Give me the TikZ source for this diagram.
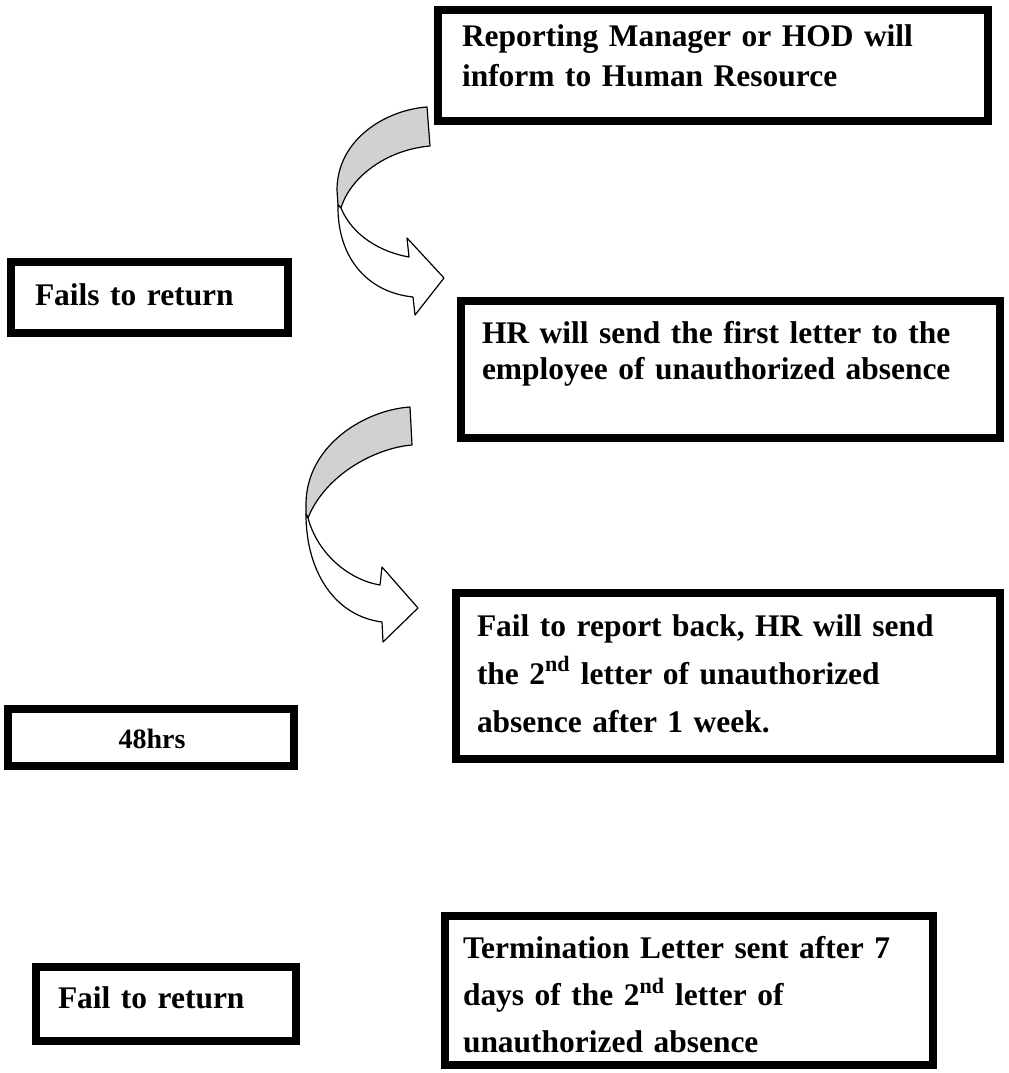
\documentclass[tikz,border=0pt]{standalone}
\usepackage{fontspec}
\setmainfont{Liberation Serif}
\begin{document}
\begin{tikzpicture}[x=0.75pt,y=-0.75pt,
  frame/.style={draw=black, line width=6pt, inner sep=0pt, outer sep=0pt, anchor=north west},
  lbl/.style={inner sep=0pt, outer sep=0pt, anchor=base west, text width=560pt, align=left,
    font=\bfseries\fontsize{23.6}{#1}\selectfont},
  lbl/.default=30,
  curlback/.style={draw=black, line width=0.9pt, line join=round, fill=black!18},
  curlfront/.style={draw=black, line width=0.9pt, line join=round, fill=white}]
\useasboundingbox (0,0) rectangle (1008,1073);
% boxes
\node[frame, minimum width=412.5pt, minimum height=83.25pt] (b1) at (438,10) {};
\node[frame, minimum width=404.25pt, minimum height=102.75pt] (b2) at (461,301) {};
\node[frame, minimum width=408pt, minimum height=124.5pt] (b3) at (456,593) {};
\node[frame, minimum width=207.75pt, minimum height=53.25pt] (b4) at (11,262) {};
\node[frame, minimum width=214.5pt, minimum height=42.75pt] (b5) at (8,709) {};
\node[frame, minimum width=195pt, minimum height=55.5pt] (b6) at (36,967) {};
\node[frame, minimum width=366pt, minimum height=111.75pt] (b7) at (445,916) {};
% texts
\node[lbl=30] (t1) at (462,47) {Reporting Manager or HOD will\\inform to Human Resource};
\node[lbl=27] (t2) at (482,343) {HR will send the first letter to the\\employee of unauthorized absence};
\node[lbl=36] (t3) at (477,636) {Fail to report back, HR will send\\the 2\textsuperscript{nd} letter of unauthorized\\absence after 1 week.};
\node[lbl] (t4) at (35,305) {Fails to return};
\node[inner sep=0pt, anchor=base, font=\bfseries\fontsize{21}{25}\selectfont] (t5) at (152,748) {48hrs};
\node[lbl] (t6) at (58,1008) {Fail to return};
\node[lbl=35.6] (t7) at (463,958) {Termination Letter sent after 7\\days of the 2\textsuperscript{nd} letter of\\unauthorized absence};
% curved arrow 1
\draw[curlback] (427,107) .. controls (385,110) and (337,140) .. (337,190) -- (338,205) -- (341,208)
  .. controls (350,178) and (385,150) .. (430,146) -- cycle;
\draw[curlfront] (338,205) .. controls (337,255) and (365,292) .. (413,297) -- (415,315) -- (444,278)
  -- (407,238) -- (409,257) .. controls (380,252) and (352,235) .. (341,208) -- cycle;
% curved arrow 2
\draw[curlback] (410,407) .. controls (365,410) and (307,445) .. (306,503) -- (306,514) -- (308,518)
  .. controls (325,475) and (375,448) .. (412,445) -- cycle;
\draw[curlfront] (306,514) .. controls (306,572) and (335,616) .. (382,622) -- (383,642) -- (418,608)
  -- (382,567) -- (380,585) .. controls (350,580) and (318,555) .. (308,518) -- cycle;
\end{tikzpicture}
\end{document}
